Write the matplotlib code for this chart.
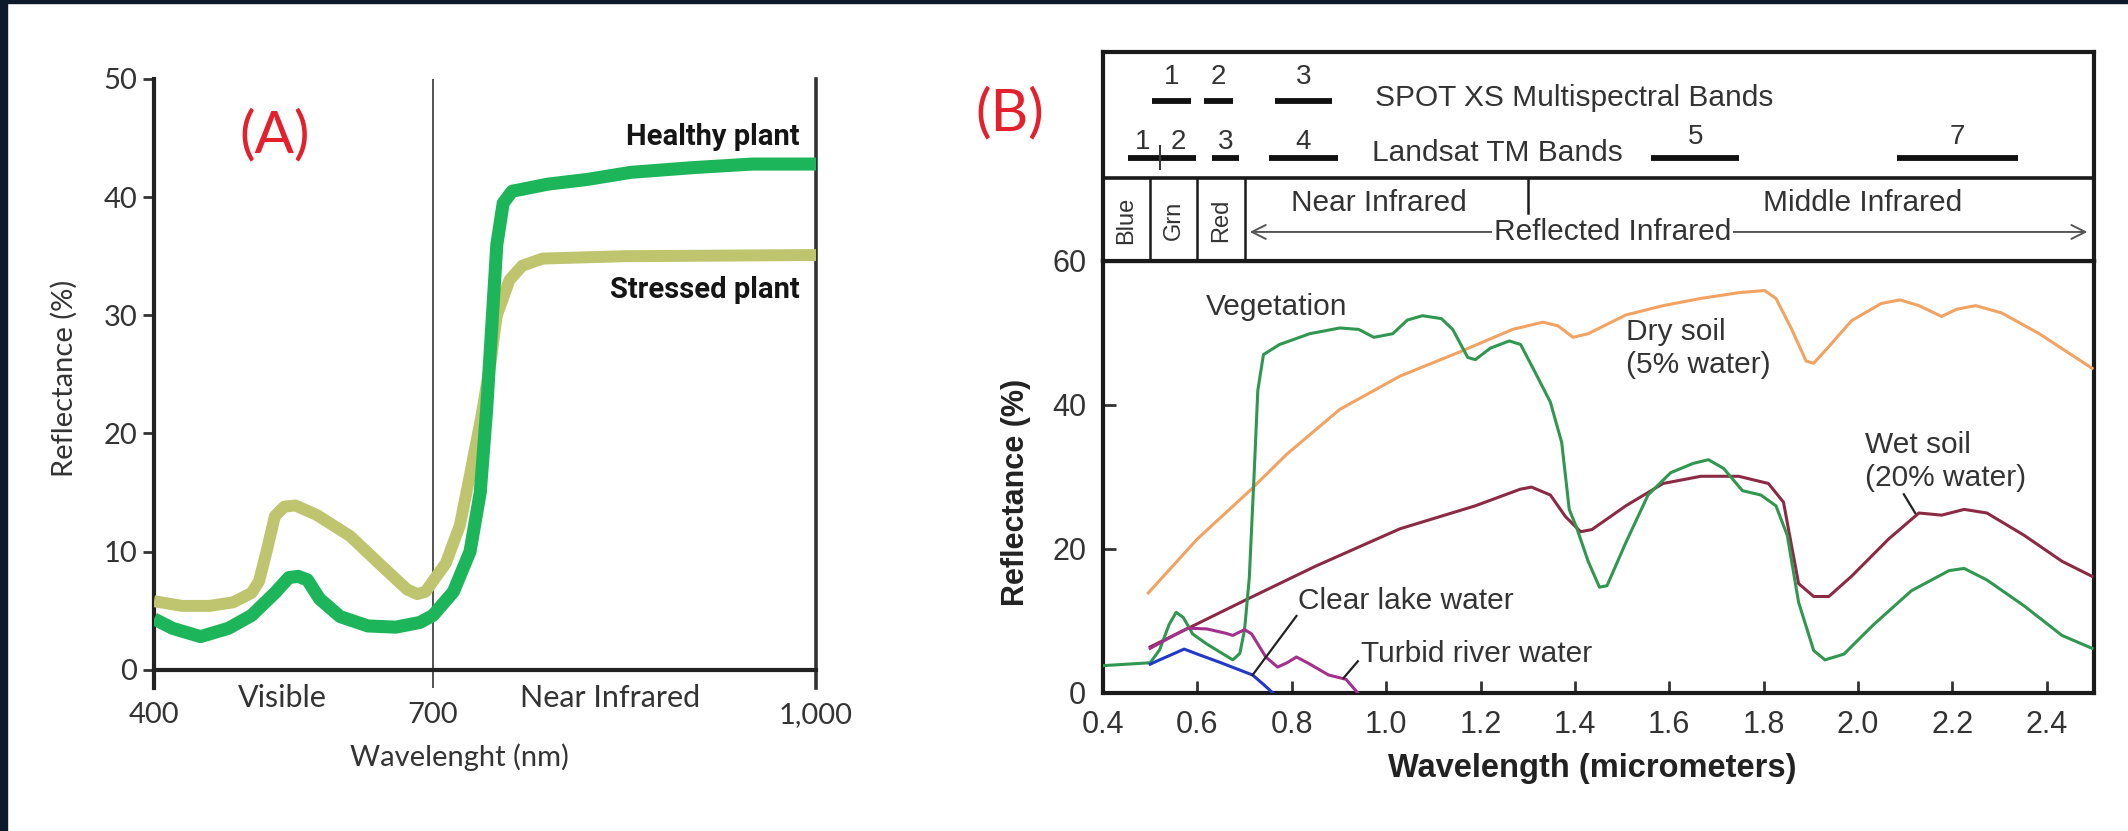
#reflectance curves: plant stress (A) and surface types (B)

import numpy as np
import matplotlib
matplotlib.use('Agg')
import matplotlib.pyplot as plt
from matplotlib.patches import Rectangle

W, H = 2128, 831

# ---- panel A data ----
a_wl_healthy = [400, 420, 450, 480, 505, 530, 545, 555, 565, 578, 600, 630, 660, 686, 700,
                716, 729, 737, 742, 746, 750, 755, 762, 790, 821, 855, 904, 950, 1000]
a_healthy = [4.3, 3.5, 2.8, 3.5, 4.6, 6.5, 7.8, 7.9, 7.6, 6.0, 4.5, 3.7, 3.6, 4.0, 4.6,
             6.6, 10.0, 15.0, 22.0, 29.0, 36.0, 39.5, 40.5, 41.1, 41.5, 42.1, 42.5, 42.8, 42.8]
a_wl_stressed = [400, 430, 460, 485, 505, 513, 521, 530, 540, 552, 575, 611, 646, 672, 683,
                 692, 700, 710, 721, 729, 738, 745, 750, 760, 770, 786, 850, 1000]
a_stressed = [5.8, 5.4, 5.4, 5.7, 6.5, 7.5, 10.0, 13.0, 13.8, 13.9, 13.1, 11.3, 8.7, 6.8, 6.4,
              6.6, 7.5, 9.0, 12.2, 16.5, 21.5, 26.0, 30.0, 33.0, 34.2, 34.8, 35.0, 35.1]
a_xticks = [400, 700, 1000]
a_xticklabels = ['400', '700', '1,000']
a_yticks = [0, 10, 20, 30, 40, 50]

# ---- panel B data ----
veg_wl = [0.40, 0.45, 0.50, 0.52, 0.54, 0.555, 0.57, 0.59, 0.62, 0.65, 0.675, 0.69, 0.70, 0.71,
          0.72, 0.728, 0.74, 0.774, 0.838, 0.902, 0.942, 0.974, 1.014, 1.045, 1.077, 1.117,
          1.141, 1.173, 1.189, 1.221, 1.261, 1.285, 1.316, 1.348, 1.372, 1.388, 1.404, 1.428,
          1.452, 1.468, 1.508, 1.555, 1.603, 1.651, 1.683, 1.715, 1.755, 1.794, 1.826, 1.850,
          1.874, 1.906, 1.930, 1.970, 2.033, 2.113, 2.193, 2.225, 2.273, 2.352, 2.432, 2.496]
veg = [3.8, 4.0, 4.2, 6.0, 9.5, 11.2, 10.5, 8.2, 6.8, 5.6, 4.6, 5.5, 8.8, 16.0,
       30.0, 42.0, 47.0, 48.4, 49.9, 50.7, 50.5, 49.4, 49.9, 51.8, 52.4, 52.0,
       50.5, 46.6, 46.3, 47.9, 48.9, 48.4, 44.5, 40.4, 34.8, 25.5, 22.9, 18.3,
       14.7, 14.9, 20.9, 27.5, 30.6, 31.9, 32.4, 31.2, 28.1, 27.5, 26.0, 21.9,
       12.6, 5.9, 4.6, 5.4, 9.5, 14.2, 17.0, 17.3, 15.7, 12.1, 8.0, 6.2]
dry_wl = [0.496, 0.60, 0.711, 0.79, 0.902, 1.029, 1.157, 1.268, 1.332, 1.364, 1.396, 1.428,
          1.508, 1.587, 1.667, 1.747, 1.802, 1.826, 1.858, 1.890, 1.906, 1.938, 1.986, 2.049,
          2.089, 2.129, 2.177, 2.209, 2.249, 2.304, 2.384, 2.496]
dry = [13.9, 21.4, 28.1, 33.2, 39.4, 44.0, 47.4, 50.5, 51.5, 51.0, 49.4, 49.9,
       52.5, 53.8, 54.8, 55.6, 55.9, 54.8, 50.7, 46.1, 45.8, 48.1, 51.7, 54.1,
       54.6, 53.8, 52.3, 53.3, 53.8, 52.8, 49.9, 45.1]
wet_wl = [0.50, 0.711, 0.85, 1.029, 1.189, 1.284, 1.308, 1.348, 1.38, 1.412, 1.436, 1.508,
          1.587, 1.667, 1.747, 1.81, 1.842, 1.874, 1.906, 1.938, 1.986, 2.065, 2.129, 2.177,
          2.225, 2.273, 2.352, 2.432, 2.496]
wet = [6.4, 13.2, 17.6, 22.8, 26.0, 28.3, 28.6, 27.5, 24.5, 22.4, 22.7, 26.0,
       29.1, 30.1, 30.1, 29.1, 26.5, 15.2, 13.4, 13.4, 16.2, 21.4, 25.0, 24.7,
       25.5, 25.0, 21.9, 18.3, 16.2]
lake_wl = [0.50, 0.52, 0.572, 0.60, 0.65, 0.717, 0.74, 0.76]
lake = [4.0, 4.6, 6.1, 5.4, 4.2, 2.5, 1.2, 0.0]
river_wl = [0.50, 0.55, 0.58, 0.62, 0.66, 0.675, 0.70, 0.715, 0.745, 0.77, 0.79, 0.81,
            0.836, 0.878, 0.915, 0.94]
river = [6.2, 8.0, 9.0, 8.9, 8.3, 8.0, 8.8, 8.2, 5.0, 3.6, 4.2, 5.0,
         4.1, 2.5, 1.9, 0.0]

b_xticks = [0.4, 0.6, 0.8, 1.0, 1.2, 1.4, 1.6, 1.8, 2.0, 2.2, 2.4]
b_yticks = [0, 20, 40, 60]

spot_bands = [(0.50, 0.59), (0.61, 0.68), (0.76, 0.89)]
spot_names = ['1', '2', '3']
tm_bands = [(0.45, 0.52), (0.52, 0.60), (0.63, 0.69), (0.75, 0.90), (1.56, 1.75), (2.08, 2.34)]
tm_names = ['1', '2', '3', '4', '5', '7']
region_edges = [0.5, 0.6, 0.7]
region_names = ['Blue', 'Grn', 'Red']
region_mid = [0.45, 0.55, 0.65]


def fx(x):
    return x / W


def fy(y):
    return 1 - y / H


fig = plt.figure(figsize=(W / 100, H / 100), dpi=100)
fig.patch.set_facecolor('white')

# dark frame bits from the screenshot
fig.add_artist(Rectangle((0, 0), fx(7), 1, transform=fig.transFigure, color='#0c1a2b', zorder=10))
fig.add_artist(Rectangle((0, fy(3)), 1, 3 / H, transform=fig.transFigure, color='#0c1a2b', zorder=10))

# ================= panel A =================
split = 279 / 662


def fwd(x):
    x = np.asarray(x, dtype=float)
    return np.where(x <= 700, (x - 400) / 300 * split, split + (x - 700) / 300 * (1 - split))


def inv(u):
    u = np.asarray(u, dtype=float)
    return np.where(u <= split, 400 + u / split * 300, 700 + (u - split) / (1 - split) * 300)


axA = fig.add_axes([fx(154), fy(688), fx(816 - 154), (688 - 79) / H])
axA.set_xscale('function', functions=(fwd, inv))
axA.set_xlim(400, 1000)
axA.set_ylim(-1.55, 50)

axA.plot(a_wl_stressed, a_stressed, color='#bfc46f', lw=8.6, solid_joinstyle='round',
         solid_capstyle='butt', zorder=3)
axA.plot(a_wl_healthy, a_healthy, color='#1db55a', lw=9.4, solid_joinstyle='round',
         solid_capstyle='butt', zorder=4)

axA.axvline(700, color='#444444', lw=1.3, zorder=2)
axA.spines['top'].set_visible(False)
axA.spines['bottom'].set_position(('data', 0))
axA.spines['bottom'].set_linewidth(3)
axA.spines['bottom'].set_color('#222222')
axA.spines['left'].set_linewidth(3)
axA.spines['left'].set_color('#222222')
axA.spines['right'].set_linewidth(2.6)
axA.spines['right'].set_color('#333333')

axA.set_yticks(a_yticks)
axA.set_yticklabels([str(v) for v in a_yticks], family='Lato', fontsize=21, color='#333333')
axA.tick_params(axis='y', direction='out', length=8, width=2, color='#333333', pad=4)
axA.set_xticks(a_xticks)
axA.set_xticklabels(a_xticklabels, family='Lato', fontsize=21, color='#333333')
axA.tick_params(axis='x', length=0, pad=23)
axA.xaxis.set_minor_locator(matplotlib.ticker.NullLocator())

axA.text(538, -2.4, 'Visible', ha='center', va='center', family='Lato', fontsize=22, color='#333333')
axA.text(839, -2.4, 'Near Infrared', ha='center', va='center', family='Lato', fontsize=22,
         color='#333333')
fig.text(fx(459), fy(757), 'Wavelenght (nm)', ha='center', va='center', family='Lato',
         fontsize=21, color='#333333')
fig.text(fx(64), fy(378), 'Reflectance (%)', ha='center', va='center', rotation=90,
         family='Lato', fontsize=21, color='#333333')
fig.text(fx(275), fy(136), '(A)', ha='center', va='center', family='Lato', fontsize=42,
         color='#e3202b')
narrow = ['Liberation Sans Narrow', 'Roboto']
fig.text(fx(800), fy(137), 'Healthy plant', ha='right', va='center', fontweight='bold',
         family=narrow, fontstretch='condensed', fontsize=21, color='#151515')
fig.text(fx(800), fy(290), 'Stressed plant', ha='right', va='center', fontweight='bold',
         family=narrow, fontstretch='condensed', fontsize=21, color='#151515')

# ================= panel B =================
txt = dict(family='Liberation Sans', color='#333333')

axB = fig.add_axes([fx(1103), fy(693), fx(991), 432 / H])
axB.set_xlim(0.4, 2.5)
axB.set_ylim(0, 60)

axB.plot(dry_wl, dry, color='#f2a261', lw=2.2, zorder=3)
axB.plot(wet_wl, wet, color='#8c2a45', lw=2.2, zorder=3)
axB.plot(veg_wl, veg, color='#2f9750', lw=2.2, zorder=4)
axB.plot(lake_wl, lake, color='#2238c8', lw=2.2, zorder=4)
axB.plot(river_wl, river, color='#a2308c', lw=2.2, zorder=4)

for s in axB.spines.values():
    s.set_linewidth(3)
    s.set_color('#1a1a1a')
axB.set_xticks(b_xticks)
axB.set_xticklabels(['%.1f' % v for v in b_xticks], fontsize=22, **txt)
axB.set_yticks(b_yticks)
axB.set_yticklabels([str(v) for v in b_yticks], fontsize=22, **txt)
axB.tick_params(direction='in', length=9, width=2, color='#333333', pad=12)

lab = 21.5
axB.text(0.767, 53.6, 'Vegetation', ha='center', va='center', fontsize=lab, **txt)
axB.text(1.508, 50.2, 'Dry soil', ha='left', va='center', fontsize=lab, **txt)
axB.text(1.508, 45.6, '(5% water)', ha='left', va='center', fontsize=lab, **txt)
axB.text(2.014, 34.5, 'Wet soil', ha='left', va='center', fontsize=lab, **txt)
axB.text(2.014, 29.9, '(20% water)', ha='left', va='center', fontsize=lab, **txt)
axB.text(0.813, 12.8, 'Clear lake water', ha='left', va='center', fontsize=lab, **txt)
axB.text(0.947, 5.4, 'Turbid river water', ha='left', va='center', fontsize=lab, **txt)
axB.plot([2.097, 2.121], [27.6, 25.0], color='#222222', lw=1.6, zorder=5)
axB.plot([0.81, 0.717], [10.7, 2.5], color='#222222', lw=1.6, zorder=5)
axB.plot([0.94, 0.91], [4.4, 2.1], color='#222222', lw=1.6, zorder=5)

fig.text(fx(1592), fy(768), 'Wavelength (micrometers)', ha='center', va='center',
         fontsize=23.5, fontweight='bold', family='Liberation Sans', color='#222222')
fig.text(fx(1016), fy(492), 'Reflectance (%)', ha='center', va='center', rotation=90,
         fontsize=22, fontweight='bold', family='Liberation Sans', color='#222222')
fig.text(fx(1010), fy(114), '(B)', ha='center', va='center', family='Lato', fontsize=42,
         color='#e3202b')

# header box with bands and regions
axH = fig.add_axes([fx(1103), fy(261), fx(991), 209 / H])
axH.set_xlim(0.4, 2.5)
axH.set_ylim(0, 1)
axH.set_xticks([])
axH.set_yticks([])
for s in axH.spines.values():
    s.set_linewidth(3)
    s.set_color('#1a1a1a')

for (a, b), n in zip(spot_bands, spot_names):
    axH.plot([a + 0.004, b - 0.004], [0.766, 0.766], color='#111111', lw=4.2, solid_capstyle='butt')
    axH.text((a + b) / 2, 0.88, n, ha='center', va='center', fontsize=20, **txt)
for (a, b), n in zip(tm_bands, tm_names):
    axH.plot([a + 0.002, b - 0.002], [0.493, 0.493], color='#111111', lw=4.2, solid_capstyle='butt')
    ty = 0.57 if b < 1.0 else 0.595
    axH.text((a + b) / 2, ty, n, ha='center', va='center', fontsize=20, **txt)
axH.plot([tm_bands[0][1], tm_bands[0][1]], [0.44, 0.55], color='#333333', lw=1.4)
axH.text(0.977, 0.78, 'SPOT XS Multispectral Bands', ha='left', va='center', fontsize=lab, **txt)
axH.text(0.97, 0.517, 'Landsat TM Bands', ha='left', va='center', fontsize=lab, **txt)

axH.axhline(0.397, color='#1a1a1a', lw=2.6)
for e in region_edges:
    axH.plot([e, e], [0, 0.397], color='#1a1a1a', lw=1.8)
axH.plot([1.3, 1.3], [0.397, 0.23], color='#1a1a1a', lw=1.8)
for m, n in zip(region_mid, region_names):
    axH.text(m, 0.196, n, ha='center', va='center', rotation=90, fontsize=17, **txt)
axH.text(0.985, 0.278, 'Near Infrared', ha='center', va='center', fontsize=lab, **txt)
axH.text(2.009, 0.278, 'Middle Infrared', ha='center', va='center', fontsize=lab, **txt)
axH.annotate('', xy=(2.492, 0.139), xytext=(0.705, 0.139),
             arrowprops=dict(arrowstyle='<->', color='#555555', lw=1.4, mutation_scale=25))
axH.text(1.48, 0.139, 'Reflected Infrared', ha='center', va='center', fontsize=lab,
         bbox=dict(facecolor='white', edgecolor='none', pad=1), **txt)

fig.savefig('out.png', dpi=100, facecolor='white')
